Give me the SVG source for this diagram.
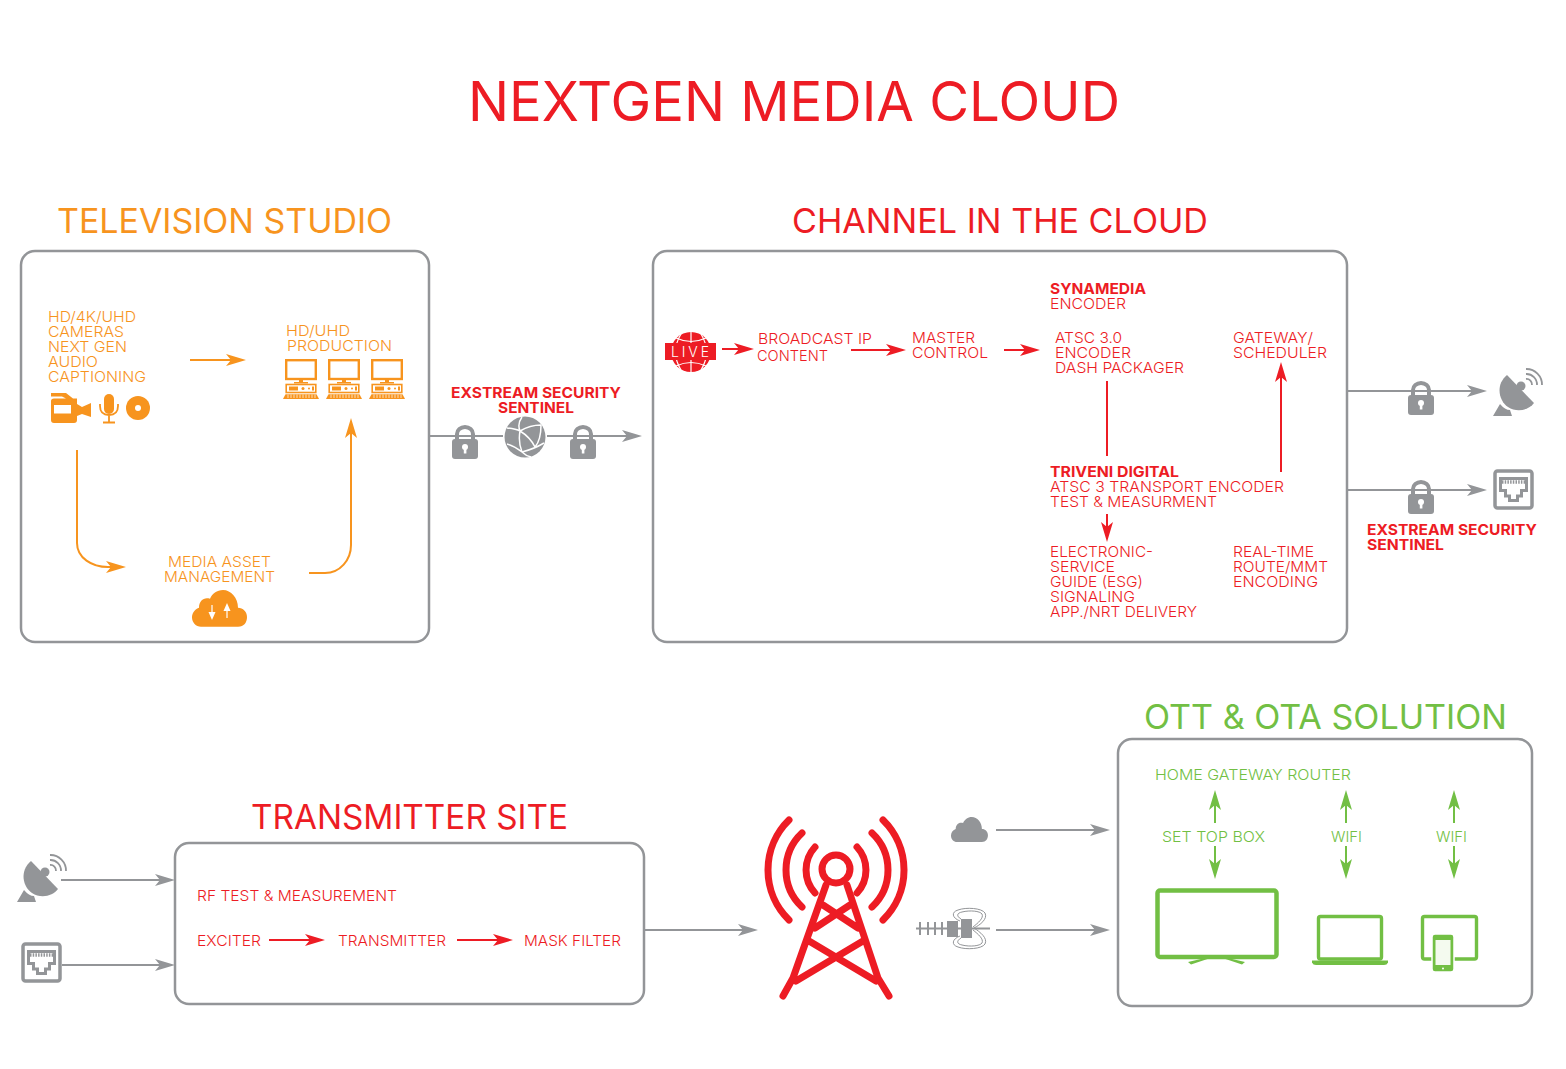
<svg xmlns="http://www.w3.org/2000/svg" xmlns:xlink="http://www.w3.org/1999/xlink" width="1566" height="1069" viewBox="0 0 1566 1069">
<style>
text{font-family:"Inter","Lato","Liberation Sans",sans-serif;font-size:15px;font-weight:300}
.o{fill:#F7941E}.r{fill:#ED1C24}.g{fill:#72BF44}.k{fill:#939598}
.b{font-weight:700}
.h{font-size:34px;font-weight:400}
.panel{fill:#fff;stroke:#939598;stroke-width:2.5}
.lg{fill:none;stroke:#939598;stroke-width:2}
.lo{fill:none;stroke:#F7941E;stroke-width:2}
.lr{fill:none;stroke:#ED1C24;stroke-width:2}
.lv{fill:none;stroke:#72BF44;stroke-width:2}
.tw{fill:none;stroke:#ED1C24;stroke-width:7;stroke-linecap:round;stroke-linejoin:round}
</style>
<defs>
<marker id="ag" markerUnits="userSpaceOnUse" markerWidth="20" markerHeight="14" refX="15" refY="7" orient="auto"><path d="M20 7L0 1L5 7L0 13Z" fill="#939598"/></marker>
<marker id="ao" markerUnits="userSpaceOnUse" markerWidth="20" markerHeight="14" refX="15" refY="7" orient="auto"><path d="M20 7L0 1L5 7L0 13Z" fill="#F7941E"/></marker>
<marker id="ar" markerUnits="userSpaceOnUse" markerWidth="20" markerHeight="14" refX="15" refY="7" orient="auto"><path d="M20 7L0 1L5 7L0 13Z" fill="#ED1C24"/></marker>
<marker id="av" markerUnits="userSpaceOnUse" markerWidth="20" markerHeight="14" refX="15" refY="7" orient="auto"><path d="M20 7L0 1L5 7L0 13Z" fill="#72BF44"/></marker>
<symbol id="lock" width="26" height="34" viewBox="0 0 26 34" overflow="visible">
<path d="M5 15V9a8 7 0 0 1 16 0V15" fill="none" stroke="#939598" stroke-width="4"/>
<rect y="14" width="26" height="20" rx="3" fill="#939598"/>
<circle cx="13" cy="22" r="3" fill="#fff"/><rect x="11.8" y="22" width="2.6" height="6.5" fill="#fff"/>
</symbol>
<symbol id="sat" width="50" height="48" viewBox="0 0 50 48" overflow="visible">
<path d="M14 7L41 35C36 42 24 45 15 39C6 33 2 17 14 7Z" fill="#939598"/>
<circle cx="28" cy="18" r="4.5" fill="#939598"/>
<path d="M0 48L7 36Q12 42 17 42L19 48Z" fill="#939598"/>
<path d="M33 11a5.500 5.500 0 0 1 6 6M33 6a10.500 10.500 0 0 1 11 11M33 1a15.500 15.500 0 0 1 16 16" fill="none" stroke="#939598" stroke-width="1.800"/>
</symbol>
<symbol id="eth" width="41" height="41" viewBox="0 0 41 41" overflow="visible">
<rect x="2" y="2" width="37" height="37" rx="2.500" fill="#fff" stroke="#939598" stroke-width="3.500"/>
<path d="M7.500 9.500H33.500V21.500H28.500V27H24.500V31.500H16.500V27H12.500V21.500H7.500Z" fill="none" stroke="#939598" stroke-width="3"/>
<path d="M9 13H32" stroke="#939598" stroke-width="3.500" stroke-dasharray="1.500 1.200"/>
</symbol>
<symbol id="pc" width="36" height="40" viewBox="0 0 36 40" overflow="visible">
<rect x="3.200" y="1.200" width="29.600" height="18.800" fill="none" stroke="#F7941E" stroke-width="2.400"/>
<path d="M16 21h4v2h5v1.500H11V23h5Z" fill="#F7941E"/>
<rect x="3.200" y="25.500" width="29.600" height="8" fill="none" stroke="#F7941E" stroke-width="1.600"/>
<path d="M6 27.500h9v4H6Z" fill="#F7941E"/><circle cx="20" cy="29.500" r="1.500" fill="#F7941E"/><circle cx="26" cy="29.500" r="1" fill="#F7941E"/><path d="M29 27.500h2v4h-2Z" fill="#F7941E"/>
<path d="M2.500 35.200H33.500L36 40H0Z" fill="#F7941E"/>
<path d="M5 35.500V39M8 35.500V39M11 35.500V39M14 35.500V39M17 35.500V39M20 35.500V39M23 35.500V39M26 35.500V39M29 35.500V39M32 35.500V39" stroke="#fff" stroke-width=".7"/>
</symbol>
<path id="cloud" d="M18 75H92C104 75 110 66 110 55C110 44 102 36 92 36C92 16 78 0 62 0C50 0 40 8 36 18C24 14 14 22 14 36C4 40 0 48 0 56C0 66 8 75 18 75Z"/>
</defs>

<g id="title"><text class="r" x="468" y="121" style="font-size:55px;font-weight:400" textLength="652" lengthAdjust="spacingAndGlyphs">NEXTGEN MEDIA CLOUD</text></g>

<g id="television-studio">
<text class="o h" x="57" y="233" textLength="335" lengthAdjust="spacingAndGlyphs">TELEVISION STUDIO</text>
<rect class="panel" x="21" y="251" width="408" height="391" rx="14"/>
<text class="o" x="48" y="322" textLength="88" lengthAdjust="spacingAndGlyphs">HD/4K/UHD</text>
<text class="o" x="48" y="337" textLength="76" lengthAdjust="spacingAndGlyphs">CAMERAS</text>
<text class="o" x="48" y="352" textLength="79" lengthAdjust="spacingAndGlyphs">NEXT GEN</text>
<text class="o" x="48" y="367" textLength="50" lengthAdjust="spacingAndGlyphs">AUDIO</text>
<text class="o" x="48" y="382" textLength="98" lengthAdjust="spacingAndGlyphs">CAPTIONING</text>
<path class="o" d="M51 393H66L73 398.500H77V404L82 407L91 403V417L82 414L77 416V420Q77 423 74 423H54Q51 423 51 420V401Q51 398.500 54 398.500H66L62 396.500H51Z"/>
<rect x="54" y="405" width="17" height="8.500" fill="#fff"/>
<rect class="o" x="104" y="394" width="10" height="20" rx="5"/>
<path d="M100 404V406Q100 415 109 415Q118 415 118 406V404M109 415V422M103 422.500H115" fill="none" stroke="#F7941E" stroke-width="1.800"/>
<circle class="o" cx="138" cy="408" r="12"/><circle cx="138" cy="408" r="3" fill="#fff"/>
<text class="o" x="286" y="336" textLength="64" lengthAdjust="spacingAndGlyphs">HD/UHD</text>
<text class="o" x="287" y="351" textLength="105" lengthAdjust="spacingAndGlyphs">PRODUCTION</text>
<use xlink:href="#pc" href="#pc" x="283" y="359"/><use xlink:href="#pc" href="#pc" x="326" y="359"/><use xlink:href="#pc" href="#pc" x="369" y="359"/>
<text class="o" x="168" y="567" textLength="103" lengthAdjust="spacingAndGlyphs">MEDIA ASSET</text>
<text class="o" x="164" y="582" textLength="111" lengthAdjust="spacingAndGlyphs">MANAGEMENT</text>
<use xlink:href="#cloud" href="#cloud" class="o" transform="translate(192 590) scale(.5 .49)"/>
<path d="M212 605V616M227 618V607" stroke="#fff" stroke-width="1.200"/>
<path d="M208.500 612H215.500L212 620ZM223.500 611H230.500L227 603Z" fill="#fff"/>
</g>

<g id="sentinel">
<text class="r b" x="451" y="398" textLength="170" lengthAdjust="spacingAndGlyphs">EXSTREAM SECURITY</text>
<text class="r b" x="498" y="413" textLength="76" lengthAdjust="spacingAndGlyphs">SENTINEL</text>
<circle class="k" cx="525" cy="437" r="20.500"/>
<path d="M507 428Q516 429 520 431Q530 425 541 425M520 431Q517 424 522 417M520 431Q518 442 522 452Q526 456 531 457M522 452Q534 449 544 443M520 431Q530 437 535 447M535 447Q541 440 541 425M507 444Q514 446 522 452" fill="none" stroke="#fff" stroke-width="1.500"/>
<use xlink:href="#lock" href="#lock" x="452" y="425"/><use xlink:href="#lock" href="#lock" x="570" y="425"/>
</g>

<g id="channel-in-the-cloud">
<text class="r h" x="792" y="233" textLength="416" lengthAdjust="spacingAndGlyphs">CHANNEL IN THE CLOUD</text>
<rect class="panel" x="653" y="251" width="694" height="391" rx="14"/>
<circle class="r" cx="691" cy="352" r="20"/>
<path d="M691 332V372M681 334Q670 352 681 370M701 334Q712 352 701 370" fill="none" stroke="#fff" stroke-width="1.200"/>
<path d="M676 338Q691 345 706 338M676 366Q691 359 706 366" fill="none" stroke="#fff" stroke-width="1.200"/>
<rect class="r" x="665" y="343" width="51" height="17"/>
<text x="671" y="357" textLength="38" style="font-size:14px;fill:#fff">LIVE</text>
<text class="r" x="758" y="344" textLength="114" lengthAdjust="spacingAndGlyphs">BROADCAST IP</text>
<text class="r" x="757" y="361" textLength="71" lengthAdjust="spacingAndGlyphs">CONTENT</text>
<text class="r" x="912" y="343" textLength="63" lengthAdjust="spacingAndGlyphs">MASTER</text>
<text class="r" x="912" y="358" textLength="76" lengthAdjust="spacingAndGlyphs">CONTROL</text>
<text class="r b" x="1050" y="294" textLength="96" lengthAdjust="spacingAndGlyphs">SYNAMEDIA</text>
<text class="r" x="1050" y="309" textLength="76" lengthAdjust="spacingAndGlyphs">ENCODER</text>
<text class="r" x="1055" y="343" textLength="67" lengthAdjust="spacingAndGlyphs">ATSC 3.0</text>
<text class="r" x="1055" y="358" textLength="76" lengthAdjust="spacingAndGlyphs">ENCODER</text>
<text class="r" x="1055" y="373" textLength="129" lengthAdjust="spacingAndGlyphs">DASH PACKAGER</text>
<text class="r" x="1233" y="343" textLength="80" lengthAdjust="spacingAndGlyphs">GATEWAY/</text>
<text class="r" x="1233" y="358" textLength="94" lengthAdjust="spacingAndGlyphs">SCHEDULER</text>
<text class="r b" x="1050" y="477" textLength="129" lengthAdjust="spacingAndGlyphs">TRIVENI DIGITAL</text>
<text class="r" x="1050" y="492" textLength="234" lengthAdjust="spacingAndGlyphs">ATSC 3 TRANSPORT ENCODER</text>
<text class="r" x="1050" y="507" textLength="167" lengthAdjust="spacingAndGlyphs">TEST &amp; MEASURMENT</text>
<text class="r" x="1050" y="557" textLength="103" lengthAdjust="spacingAndGlyphs">ELECTRONIC-</text>
<text class="r" x="1050" y="572" textLength="65" lengthAdjust="spacingAndGlyphs">SERVICE</text>
<text class="r" x="1050" y="587" textLength="93" lengthAdjust="spacingAndGlyphs">GUIDE (ESG)</text>
<text class="r" x="1050" y="602" textLength="85" lengthAdjust="spacingAndGlyphs">SIGNALING</text>
<text class="r" x="1050" y="617" textLength="147" lengthAdjust="spacingAndGlyphs">APP./NRT DELIVERY</text>
<text class="r" x="1233" y="557" textLength="81" lengthAdjust="spacingAndGlyphs">REAL-TIME</text>
<text class="r" x="1233" y="572" textLength="95" lengthAdjust="spacingAndGlyphs">ROUTE/MMT</text>
<text class="r" x="1233" y="587" textLength="85" lengthAdjust="spacingAndGlyphs">ENCODING</text>
</g>

<g id="cloud-output">
<use xlink:href="#lock" href="#lock" x="1408" y="381"/><use xlink:href="#lock" href="#lock" x="1408" y="480"/>
<use xlink:href="#sat" href="#sat" x="1493" y="368"/>
<use xlink:href="#eth" href="#eth" x="1493" y="469"/>
<text class="r b" x="1367" y="535" textLength="170" lengthAdjust="spacingAndGlyphs">EXSTREAM SECURITY</text>
<text class="r b" x="1367" y="550" textLength="77" lengthAdjust="spacingAndGlyphs">SENTINEL</text>
</g>

<g id="transmitter-site">
<text class="r h" x="251" y="829" textLength="317" lengthAdjust="spacingAndGlyphs">TRANSMITTER SITE</text>
<rect class="panel" x="175" y="843" width="469" height="161" rx="14"/>
<text class="r" x="197" y="901" textLength="200" lengthAdjust="spacingAndGlyphs">RF TEST &amp; MEASUREMENT</text>
<text class="r" x="197" y="946" textLength="64" lengthAdjust="spacingAndGlyphs">EXCITER</text>
<text class="r" x="338" y="946" textLength="108" lengthAdjust="spacingAndGlyphs">TRANSMITTER</text>
<text class="r" x="524" y="946" textLength="97" lengthAdjust="spacingAndGlyphs">MASK FILTER</text>
</g>
<g id="transmitter-inputs">
<use xlink:href="#sat" href="#sat" x="17" y="854"/>
<use xlink:href="#eth" href="#eth" x="21" y="942"/>
</g>

<g id="tower">
<circle cx="836" cy="869" r="14" fill="none" stroke="#ED1C24" stroke-width="7"/>
<path class="tw" d="M826 885L793 978L783 996M847 885L878 978L889 996M823 905L858 928M850 905L815 928M809 941L876 981M863 941L796 981"/>
<path class="tw" d="M815 847A34 34 0 0 0 815 893M802 833A50.800 50.800 0 0 0 802 907M789 820A70 70 0 0 0 789 920M857 847A34 34 0 0 1 857 893M872 833A50.800 50.800 0 0 1 872 907M883 820A70 70 0 0 1 883 920"/>
</g>

<g id="ota-icons">
<use xlink:href="#cloud" href="#cloud" class="k" transform="translate(951 817) scale(.336 .333)"/>
<path d="M916 928.500H990M920 922V935M928 922V935M935 922V935M942 922V935" fill="none" stroke="#939598" stroke-width="2"/>
<rect class="k" x="947" y="921" width="11" height="16"/><rect class="k" x="961" y="919" width="11" height="19"/>
<path d="M960 921C952 918 951 912 958 910C966 907 982 908 985 913C988 919 980 925 974 928C980 932 988 938 985 944C982 949 966 950 958 947C951 945 952 939 960 936M961 919C956 916 957 913 962 912C970 910 980 911 982 914C984 918 978 923 973 927M973 930C978 934 984 939 982 943C980 946 970 947 962 945C957 944 956 941 961 938" fill="none" stroke="#939598" stroke-width="1"/>
</g>

<g id="ott-ota-solution">
<text class="g h" x="1144" y="729" textLength="363" lengthAdjust="spacingAndGlyphs">OTT &amp; OTA SOLUTION</text>
<rect class="panel" x="1118" y="739" width="414" height="267" rx="14"/>
<text class="g" x="1155" y="780" textLength="196" lengthAdjust="spacingAndGlyphs">HOME GATEWAY ROUTER</text>
<text class="g" x="1162" y="842" textLength="103" lengthAdjust="spacingAndGlyphs">SET TOP BOX</text>
<text class="g" x="1331" y="842" textLength="31" lengthAdjust="spacingAndGlyphs">WIFI</text>
<text class="g" x="1436" y="842" textLength="31" lengthAdjust="spacingAndGlyphs">WIFI</text>
<rect x="1157.500" y="890.500" width="119" height="66.500" rx="2.500" fill="#fff" stroke="#72BF44" stroke-width="4.500"/>
<path d="M1188 962L1203 958.500H1209L1191 964.500ZM1245 962L1230 958.500H1224L1242 964.500Z" class="g"/>
<rect x="1318.500" y="916.500" width="63" height="42.500" rx="2" fill="#fff" stroke="#72BF44" stroke-width="3.400"/>
<path class="g" d="M1312 960.500H1388V962.500Q1387 965 1384 965H1316Q1313 965 1312 962.500Z"/>
<rect x="1422.500" y="916.500" width="54" height="42.500" rx="2" fill="#fff" stroke="#72BF44" stroke-width="3.400"/>
<rect x="1432" y="934" width="22" height="38" rx="3" fill="#72BF44" stroke="#fff" stroke-width="1.500"/>
<rect x="1435.500" y="940" width="15" height="25" fill="#f4faef"/>
<circle cx="1443" cy="968.500" r="1" fill="#fff"/>
</g>

<g id="connectors">
<path class="lg" marker-end="url(#ag)" d="M430 436H503M547 436H637"/>
<path class="lg" marker-end="url(#ag)" d="M1348 391H1482"/>
<path class="lg" marker-end="url(#ag)" d="M1348 490H1482"/>
<path class="lg" marker-end="url(#ag)" d="M61 880H170"/>
<path class="lg" marker-end="url(#ag)" d="M62 965H170"/>
<path class="lg" marker-end="url(#ag)" d="M645 930H753"/>
<path class="lg" marker-end="url(#ag)" d="M996 830H1105"/>
<path class="lg" marker-end="url(#ag)" d="M996 930H1105"/>
<path class="lo" marker-end="url(#ao)" d="M190 360H241"/>
<path class="lo" marker-end="url(#ao)" d="M77 450V543C77 558 92 567 108 567H121"/>
<path class="lo" marker-end="url(#ao)" d="M309 573H325C340 573 351 560 351 545V423"/>
<path class="lr" marker-end="url(#ar)" d="M722 349H749"/>
<path class="lr" marker-end="url(#ar)" d="M851 350H901"/>
<path class="lr" marker-end="url(#ar)" d="M1004 350H1035"/>
<path class="lr" d="M1107 381V456"/>
<path class="lr" marker-end="url(#ar)" d="M1107 514V537"/>
<path class="lr" marker-end="url(#ar)" d="M1281 472V367"/>
<path class="lr" marker-end="url(#ar)" d="M269 940H320"/>
<path class="lr" marker-end="url(#ar)" d="M457 940H508"/>
<path class="lv" marker-end="url(#av)" d="M1215 823V795"/>
<path class="lv" marker-end="url(#av)" d="M1215 846V874"/>
<path class="lv" marker-end="url(#av)" d="M1346 823V795"/>
<path class="lv" marker-end="url(#av)" d="M1346 846V874"/>
<path class="lv" marker-end="url(#av)" d="M1454 823V795"/>
<path class="lv" marker-end="url(#av)" d="M1454 846V874"/>
</g>
</svg>
